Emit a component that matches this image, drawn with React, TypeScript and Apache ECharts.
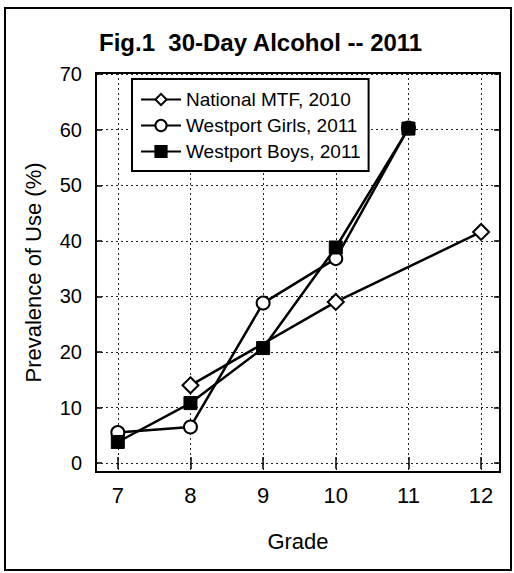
import React, { useEffect, useRef } from "react";
import * as echarts from "echarts";

const grades = [7, 8, 9, 10, 11, 12];
const yTicks = [0, 10, 20, 30, 40, 50, 60, 70];
const nationalMTF: [number, number][] = [[8, 14], [10, 29], [12, 41.6]];
const westportGirls: [number, number][] = [[7, 5.5], [8, 6.5], [9, 28.8], [10, 36.8], [11, 60.3]];
const westportBoys: [number, number][] = [[7, 3.8], [8, 10.8], [9, 20.7], [10, 38.8], [11, 60.2]];
const seriesNames = ["National MTF, 2010", "Westport Girls, 2011", "Westport Boys, 2011"];

const FONT = "'Liberation Sans', Arial, sans-serif";

export default function App() {
  const ref = useRef<HTMLDivElement>(null);
  useEffect(() => {
    if (!ref.current) return;
    const chart = echarts.init(ref.current, undefined, { renderer: "svg" });
    const gridLine = { show: true, lineStyle: { color: "#222", type: [2, 3] as any, width: 1 } };
    const tickStyle = { show: true, inside: true, length: 6, lineStyle: { color: "#000", width: 1.5 } };
    chart.setOption({
      animation: false,
      backgroundColor: "#fff",
      textStyle: { fontFamily: FONT, color: "#000" },
      title: {
        text: "Fig.1  30-Day Alcohol -- 2011",
        left: 99,
        top: 30,
        padding: 0,
        textStyle: { fontFamily: FONT, fontSize: 24, fontWeight: "bold", color: "#000" },
      },
      legend: {
        data: seriesNames,
        orient: "vertical",
        left: 132,
        top: 79,
        padding: [11, 8, 10, 8],
        itemGap: 7,
        itemWidth: 40,
        itemHeight: 14,
        borderColor: "#000",
        borderWidth: 2,
        backgroundColor: "#fff",
        textStyle: { fontFamily: FONT, fontSize: 19, color: "#000" },
      },
      grid: {
        left: 96,
        right: 14,
        top: 73,
        bottom: 101,
        show: true,
        borderColor: "#000",
        borderWidth: 2,
        containLabel: false,
      },
      xAxis: [
        {
          type: "value",
          min: 6.7,
          max: 12.26,
          name: "Grade",
          nameLocation: "middle",
          nameGap: 58,
          nameTextStyle: { fontFamily: FONT, fontSize: 22, color: "#000" },
          axisLine: { show: false },
          axisTick: { ...tickStyle, customValues: grades },
          axisLabel: { customValues: grades, fontFamily: FONT, fontSize: 22, color: "#000", margin: 12 },
          splitLine: gridLine,
        },
        {
          type: "value",
          position: "top",
          min: 6.7,
          max: 12.26,
          axisLine: { show: false },
          axisTick: { ...tickStyle, customValues: grades },
          axisLabel: { show: false },
          splitLine: { show: false },
        },
      ],
      yAxis: [
        {
          type: "value",
          min: -1.6,
          max: 70.2,
          name: "Prevalence of Use (%)",
          nameLocation: "middle",
          nameGap: 52,
          nameTextStyle: { fontFamily: FONT, fontSize: 22, color: "#000" },
          axisLine: { show: false },
          axisTick: { ...tickStyle, customValues: yTicks },
          axisLabel: { customValues: yTicks, fontFamily: FONT, fontSize: 20, color: "#000", margin: 14 },
          splitLine: gridLine,
        },
        {
          type: "value",
          position: "right",
          min: -1.6,
          max: 70.2,
          axisLine: { show: false },
          axisTick: { ...tickStyle, customValues: yTicks },
          axisLabel: { show: false },
          splitLine: { show: false },
        },
      ],
      series: [
        {
          name: seriesNames[0],
          type: "line",
          data: nationalMTF,
          symbol: "diamond",
          symbolSize: 16,
          lineStyle: { color: "#000", width: 2.5 },
          itemStyle: { color: "#fff", borderColor: "#000", borderWidth: 2 },
          z: 2,
        },
        {
          name: seriesNames[1],
          type: "line",
          data: westportGirls,
          symbol: "circle",
          symbolSize: 13,
          lineStyle: { color: "#000", width: 2.5 },
          itemStyle: { color: "#fff", borderColor: "#000", borderWidth: 2 },
          z: 3,
        },
        {
          name: seriesNames[2],
          type: "line",
          data: westportBoys,
          symbol: "rect",
          symbolSize: 13,
          lineStyle: { color: "#000", width: 2.5 },
          itemStyle: { color: "#000", borderColor: "#000", borderWidth: 1 },
          z: 4,
        },
      ],
      graphic: [
        {
          type: "rect",
          shape: { x: 5, y: 8, width: 506, height: 562 },
          style: { fill: "none", stroke: "#000", lineWidth: 2 },
          silent: true,
          z: 100,
        },
      ],
    });
    return () => chart.dispose();
  }, []);
  return (
    <div
      ref={ref}
      style={{ position: "absolute", left: 0, top: 0, width: 514, height: 573 }}
    />
  );
}
